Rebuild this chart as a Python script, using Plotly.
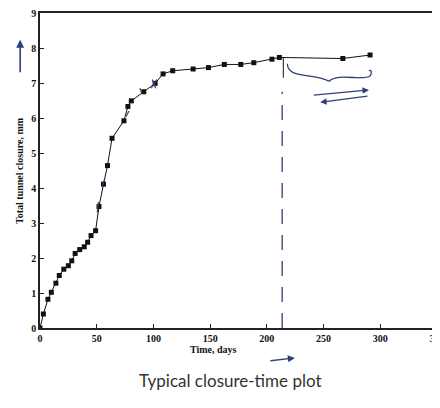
import plotly.graph_objects as go

# closure readings
time_days = [0, 3, 7, 10, 14, 17, 21, 25, 28, 31, 35, 39, 42, 45, 49, 52, 56,
             59.5, 63.5, 74, 77.5, 80.5, 91.5, 101.5, 108.5, 117, 135, 148.5,
             162.5, 177, 188.5, 204.5, 211, 267, 291]
closure_mm = [0, 0.4, 0.82, 1.02, 1.28, 1.5, 1.68, 1.78, 1.92, 2.13, 2.24, 2.32,
              2.45, 2.64, 2.78, 3.47, 4.11, 4.64, 5.42, 5.92, 6.33, 6.49, 6.75,
              6.99, 7.26, 7.35, 7.4, 7.44, 7.53, 7.53, 7.58, 7.68, 7.73, 7.7, 7.8]
x_ticks = [0, 50, 100, 150, 200, 250, 300, 350]
y_ticks = [0, 1, 2, 3, 4, 5, 6, 7, 8, 9]

pen = "#2f3f7a"
serif = "Liberation Serif"

fig = go.Figure()
fig.add_trace(go.Scatter(x=time_days, y=closure_mm, mode="lines+markers",
                         line=dict(color="#111", width=1),
                         marker=dict(color="#111", size=5, symbol="square"),
                         showlegend=False, hoverinfo="skip"))

# vertical marker at end of excavation
fig.add_shape(type="line", x0=214.5, x1=214.5, y0=7.72, y1=7.15,
              line=dict(color="#111", width=1))
fig.add_shape(type="line", x0=213.5, x1=213.5, y0=0, y1=6.75,
              line=dict(color=pen, width=1.3, dash="15px,11px"))

# hand drawn brace
fig.add_shape(type="path",
              path="M 218,7.55 C 219,7.1 240,7.3 255,7.05 C 262,7.3 285,7.05 291,7.2 C 293,7.3 292,7.4 290,7.35",
              line=dict(color=pen, width=1.3))

# hand drawn strokes across the curve
for x0, y0, x1, y1 in [(50.5, 3.3, 51.5, 3.6), (55, 4.05, 57, 4.25),
                       (76, 6.05, 78.5, 6.2), (88, 6.85, 90, 6.7),
                       (98, 6.85, 103, 7.1), (99, 7.1, 102, 6.85)]:
    fig.add_shape(type="line", x0=x0, y0=y0, x1=x1, y1=y1,
                  line=dict(color=pen, width=1.2))

# arrows
fig.add_annotation(x=290, y=6.8, ax=240, ay=6.65, xref="x", yref="y", axref="x", ayref="y",
                   text="", showarrow=True, arrowhead=2, arrowsize=1, arrowwidth=1.3, arrowcolor=pen)
fig.add_annotation(x=247, y=6.45, ax=290, ay=6.63, xref="x", yref="y", axref="x", ayref="y",
                   text="", showarrow=True, arrowhead=2, arrowsize=1, arrowwidth=1.3, arrowcolor=pen)
fig.add_annotation(x=-0.05, y=0.915, ax=0, ay=34, xref="paper", yref="paper",
                   text="", showarrow=True, arrowhead=2, arrowsize=1, arrowwidth=1.6, arrowcolor=pen)
fig.add_annotation(x=0.642, y=-0.095, ax=-26, ay=3, xref="paper", yref="paper",
                   text="", showarrow=True, arrowhead=2, arrowsize=1, arrowwidth=1.4, arrowcolor=pen)

# axis titles and caption
fig.add_annotation(x=-0.0705, y=0.5, xref="paper", yref="paper", text="Total tunnel closure, mm",
                   textangle=-90, showarrow=False,
                   font=dict(family=serif, size=10, color="#111", weight="bold"))
fig.add_annotation(x=0.436, y=-0.092, xref="paper", yref="paper", text="Time, days",
                   showarrow=False, font=dict(family=serif, size=10, color="#111", weight="bold"))
fig.add_annotation(x=0.479, y=-0.206, xref="paper", yref="paper", text="Typical closure-time plot",
                   showarrow=False, font=dict(family="Lato", size=17, color="#333"))

fig.update_xaxes(range=[0, 350], tickvals=x_ticks, showgrid=False, zeroline=False,
                 showline=True, linecolor="#222", linewidth=1.5, mirror=True,
                 ticks="inside", ticklen=4, tickcolor="#222", ticklabeloverflow="allow",
                 tickfont=dict(family=serif, size=10, color="#111", weight="bold"))
fig.update_yaxes(range=[0, 9], tickvals=y_ticks, showgrid=False, zeroline=False,
                 showline=True, linecolor="#222", linewidth=1.5, mirror=True,
                 ticks="inside", ticklen=4, tickcolor="#222", ticklabeloverflow="allow",
                 tickfont=dict(family=serif, size=10, color="#111", weight="bold"))

# page body adds an 8px offset, so the figure is 8px smaller than the window
fig.update_layout(width=432, height=400, margin=dict(l=32, r=3, t=5, b=80, autoexpand=False),
                  plot_bgcolor="white", paper_bgcolor="white")

fig.write_html("out.html")
